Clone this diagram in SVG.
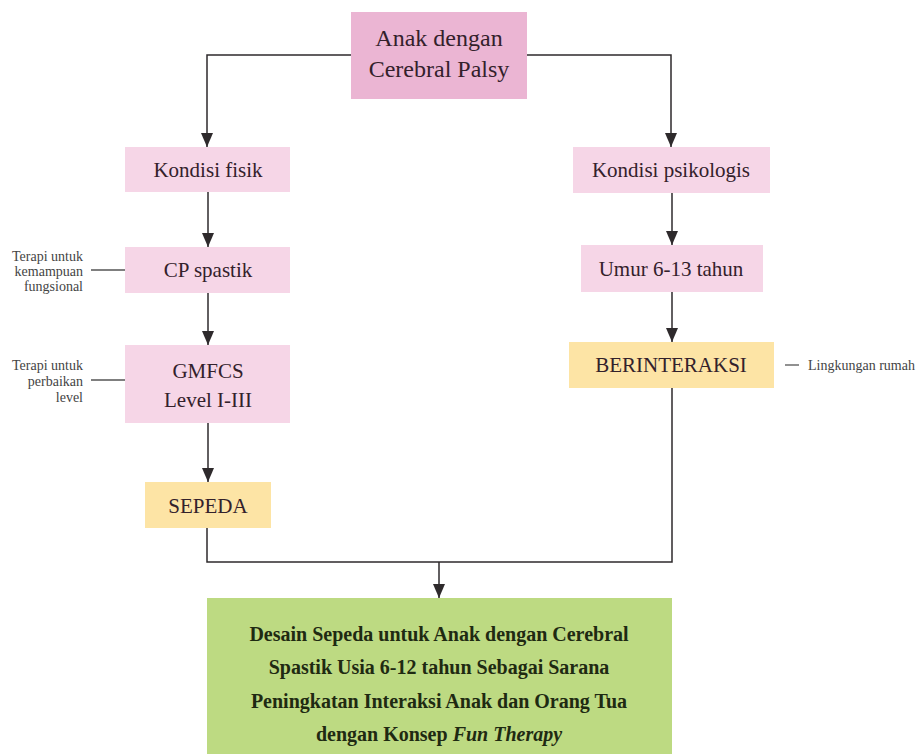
<svg xmlns="http://www.w3.org/2000/svg" width="922" height="756" viewBox="0 0 922 756">
<defs>
<marker id="arr" markerUnits="userSpaceOnUse" markerWidth="14" markerHeight="12" viewBox="0 0 14 12" refX="14" refY="6" orient="auto">
<path d="M0,0 L14,6 L0,12 z" fill="#2e2a2c"/>
</marker>
<style>
.pk{fill:#f6d6e7}
.pk2{fill:#ebb5d3}
.yl{fill:#fde4a5}
.gr{fill:#bdda82}
.t{font-family:"Liberation Serif","Times New Roman",serif;fill:#33212b;text-anchor:middle}
.tb{font-family:"Liberation Serif","Times New Roman",serif;fill:#1f2a12;font-weight:bold;font-size:20px;text-anchor:middle}
.s{font-family:"Liberation Serif","Times New Roman",serif;fill:#444;font-size:14px}
.c{fill:none;stroke:#2e2a2c;stroke-width:1.5}
.l{fill:none;stroke:#555;stroke-width:1.3}
</style>
</defs>
<rect width="922" height="756" fill="#ffffff"/>
<g id="connectors">
<path class="c" d="M351,55 H207 V147" marker-end="url(#arr)"/>
<path class="c" d="M527,55 H671 V147" marker-end="url(#arr)"/>
<path class="c" d="M208,192 V247" marker-end="url(#arr)"/>
<path class="c" d="M208,293 V345" marker-end="url(#arr)"/>
<path class="c" d="M208,423 V482" marker-end="url(#arr)"/>
<path class="c" d="M672,193 V245" marker-end="url(#arr)"/>
<path class="c" d="M672,292 V342" marker-end="url(#arr)"/>
<path class="c" d="M207,528 V562 H672 V388"/>
<path class="c" d="M439,562 V598" marker-end="url(#arr)"/>
<path class="l" d="M91,270 H125"/>
<path class="l" d="M91,380 H125"/>
<path class="l" d="M785,365 H799"/>
</g>
<g id="n-anak">
<rect class="pk2" x="351" y="12" width="176" height="87"/>
<text class="t" x="439" y="46" font-size="24">Anak dengan</text>
<text class="t" x="439" y="77" font-size="24">Cerebral Palsy</text>
</g>
<g id="n-fisik">
<rect class="pk" x="125" y="147" width="165" height="45"/>
<text class="t" x="208" y="177" font-size="21">Kondisi fisik</text>
</g>
<g id="n-psikologis">
<rect class="pk" x="573" y="147" width="197" height="46"/>
<text class="t" x="671" y="177" font-size="21">Kondisi psikologis</text>
</g>
<g id="n-cp">
<rect class="pk" x="125" y="247" width="165" height="46"/>
<text class="t" x="208" y="277" font-size="21">CP spastik</text>
</g>
<g id="n-umur">
<rect class="pk" x="581" y="245" width="182" height="47"/>
<text class="t" x="671" y="276" font-size="21">Umur 6-13 tahun</text>
</g>
<g id="n-gmfcs">
<rect class="pk" x="125" y="345" width="165" height="78"/>
<text class="t" x="208" y="378" font-size="21">GMFCS</text>
<text class="t" x="208" y="407" font-size="21">Level I-III</text>
</g>
<g id="n-berinteraksi">
<rect class="yl" x="569" y="342" width="205" height="46"/>
<text class="t" x="671" y="372" font-size="21">BERINTERAKSI</text>
</g>
<g id="n-sepeda">
<rect class="yl" x="145" y="482" width="126" height="46"/>
<text class="t" x="208" y="513" font-size="21">SEPEDA</text>
</g>
<g id="n-desain">
<rect class="gr" x="207" y="598" width="465" height="156"/>
<text class="tb" x="439" y="641">Desain Sepeda untuk Anak dengan Cerebral</text>
<text class="tb" x="439" y="674">Spastik Usia 6-12 tahun Sebagai Sarana</text>
<text class="tb" x="439" y="708">Peningkatan Interaksi Anak dan Orang Tua</text>
<text class="tb" x="439" y="741">dengan Konsep <tspan font-style="italic">Fun Therapy</tspan></text>
</g>
<g id="label-kemampuan">
<text class="s" x="83" y="261" text-anchor="end">Terapi untuk</text>
<text class="s" x="83" y="276" text-anchor="end">kemampuan</text>
<text class="s" x="83" y="291" text-anchor="end">fungsional</text>
</g>
<g id="label-perbaikan">
<text class="s" x="83" y="370" text-anchor="end">Terapi untuk</text>
<text class="s" x="83" y="386" text-anchor="end">perbaikan</text>
<text class="s" x="83" y="402" text-anchor="end">level</text>
</g>
<g id="label-lingkungan">
<text class="s" x="808" y="370">Lingkungan rumah</text>
</g>
</svg>
